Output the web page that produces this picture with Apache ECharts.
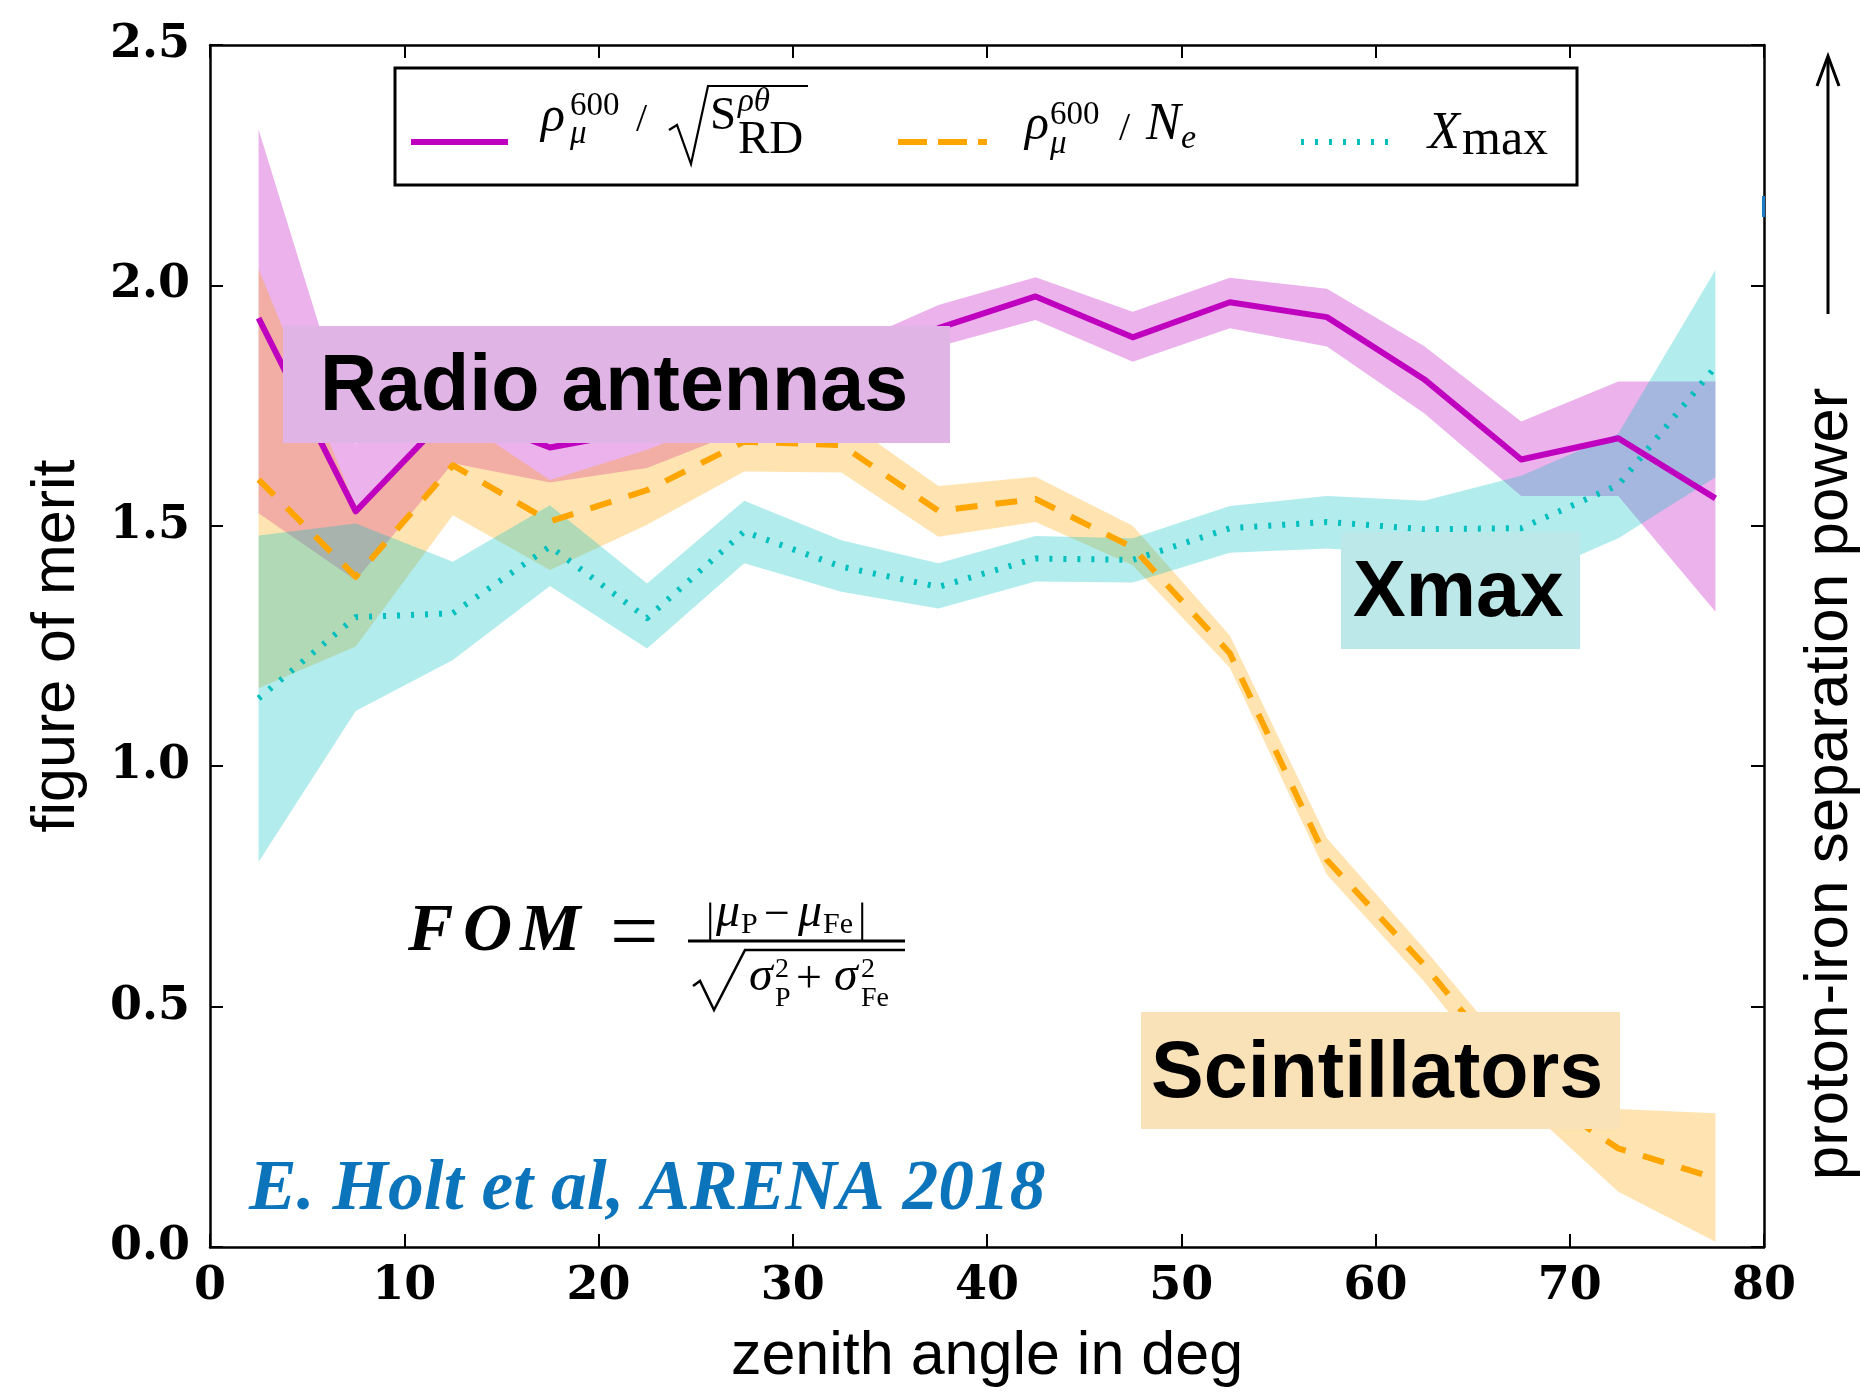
<!DOCTYPE html>
<html>
<head>
<meta charset="utf-8">
<script src="https://cdn.jsdelivr.net/npm/echarts/dist/echarts.min.js"></script>
<style>
  html, body { margin: 0; padding: 0; background: #fff; }
  #chart { width: 1860px; height: 1395px; }
</style>
</head>
<body>
<div id="chart"></div>
<script>
// Zenith-angle bin centres (deg)
const zenith = [2.5, 7.5, 12.5, 17.5, 22.5, 27.5, 32.5, 37.5, 42.5, 47.5, 52.5, 57.5, 62.5, 67.5, 72.5, 77.5];

// Radio antennas: rho_mu^600 / sqrt(S_RD)
const radioFom  = [1.932, 1.530, 1.740, 1.663, 1.700, 1.770, 1.820, 1.911, 1.977, 1.892, 1.965, 1.934, 1.805, 1.638, 1.682, 1.557];
const radioLow  = [1.526, 1.387, 1.630, 1.590, 1.620, 1.700, 1.770, 1.873, 1.928, 1.841, 1.911, 1.873, 1.734, 1.562, 1.562, 1.321];
const radioHigh = [2.324, 1.670, 1.850, 1.740, 1.780, 1.840, 1.870, 1.959, 2.017, 1.945, 2.016, 1.993, 1.874, 1.717, 1.800, 1.800];

// Scintillators: rho_mu^600 / N_e
const scintFom  = [1.596, 1.394, 1.626, 1.509, 1.574, 1.675, 1.668, 1.531, 1.556, 1.455, 1.235, 0.805, 0.587, 0.340, 0.205, 0.143];
const scintLow  = [1.162, 1.249, 1.522, 1.408, 1.502, 1.613, 1.611, 1.477, 1.508, 1.418, 1.205, 0.774, 0.552, 0.300, 0.115, 0.011];
const scintHigh = [2.034, 1.540, 1.730, 1.595, 1.658, 1.737, 1.725, 1.583, 1.602, 1.500, 1.272, 0.850, 0.621, 0.380, 0.287, 0.278];

// Xmax
const xmaxFom  = [1.141, 1.310, 1.318, 1.457, 1.308, 1.488, 1.415, 1.373, 1.432, 1.429, 1.495, 1.508, 1.493, 1.495, 1.585, 1.831];
const xmaxLow  = [0.801, 1.115, 1.221, 1.375, 1.245, 1.422, 1.363, 1.328, 1.384, 1.382, 1.444, 1.453, 1.440, 1.386, 1.474, 1.601];
const xmaxHigh = [1.480, 1.505, 1.425, 1.543, 1.380, 1.552, 1.470, 1.422, 1.479, 1.474, 1.541, 1.562, 1.552, 1.604, 1.692, 2.032];

// Axis ranges: [min, max, step]
const xRange = [0, 80, 10];
const yRange = [0, 2.5, 0.5];

const SERIF = '"Liberation Serif", "Times New Roman", serif';
const SANS = '"Liberation Sans", Arial, Helvetica, sans-serif';
const TICKFONT = '"DejaVu Serif", serif';

// text placed by its baseline
function tx(x, base, str, size, o) {
  o = o || {};
  return {
    type: 'text', z: 120, x: x, y: base - 0.34 * size,
    style: {
      text: str, fontSize: size, fontFamily: o.family || SERIF,
      fontStyle: o.italic ? 'italic' : 'normal', fontWeight: o.bold ? 'bold' : 'normal',
      fill: o.color || '#000', align: o.align || 'left', verticalAlign: 'middle'
    }
  };
}
function seg(points, width, color, dash) {
  return {
    type: 'polyline', z: 120, shape: { points: points },
    style: { stroke: color || '#000', lineWidth: width, fill: null, lineDash: dash || null, lineCap: 'butt', lineJoin: 'miter' }
  };
}
function box(x, y, w, h, fill, stroke) {
  return {
    type: 'rect', z: 110, shape: { x: x, y: y, width: w, height: h },
    style: { fill: fill, stroke: stroke || null, lineWidth: stroke ? 3 : 0 }
  };
}

function band(name, lo, hi, fill) {
  return {
    type: 'custom', name: name, silent: true, z: 1,
    data: zenith.map((x, i) => [x, lo[i], hi[i]]),
    encode: { x: 0, y: [1, 2] },
    renderItem: function (params, api) {
      if (params.dataIndex !== 0) return null;
      const pts = [];
      for (let i = 0; i < zenith.length; i++) pts.push(api.coord([zenith[i], hi[i]]));
      for (let i = zenith.length - 1; i >= 0; i--) pts.push(api.coord([zenith[i], lo[i]]));
      return { type: 'polygon', shape: { points: pts }, style: { fill: fill, stroke: null } };
    }
  };
}
function curve(name, vals, color, dash) {
  return {
    type: 'line', name: name, z: 5, symbol: 'none', silent: true,
    data: zenith.map((x, i) => [x, vals[i]]),
    lineStyle: { color: color, width: 6, type: dash || 'solid', cap: 'butt', join: 'round' }
  };
}

const MAG = '#bf00bf', ORG = '#ffa500', CYN = '#00bfbf';

const axisCommon = {
  axisLine: { show: true, onZero: false, lineStyle: { color: '#000', width: 2.5 } },
  axisTick: { show: true, inside: true, length: 13, lineStyle: { color: '#000', width: 2 } },
  splitLine: { show: false }
};

const graphics = [
  // legend frame and samples
  box(395, 68, 1182, 117, '#fff', '#000'),
  seg([[411, 142], [508, 142]], 6, MAG),
  seg([[898, 142], [987, 142]], 6, ORG, [29, 11]),
  seg([[1301, 142], [1390, 142]], 6, CYN, [3, 11]),
  // rho_mu^600 / sqrt(S_RD^{rho theta})
  tx(541, 135, 'ρ', 50, { italic: true }),
  tx(570, 118, '600', 33),
  tx(570, 146, 'μ', 33, { italic: true }),
  tx(636, 134, '/', 40),
  seg([[669, 130], [677, 125], [691, 164], [708, 86], [808, 86]], 2.2, '#000'),
  tx(710, 133, 'S', 47),
  tx(738, 114, 'ρθ', 33, { italic: true }),
  tx(738, 157, 'RD', 47),
  // rho_mu^600 / N_e
  tx(1025, 143, 'ρ', 50, { italic: true }),
  tx(1050, 127, '600', 33),
  tx(1050, 156, 'μ', 33, { italic: true }),
  tx(1119, 143, '/', 40),
  tx(1146, 143, 'N', 52, { italic: true }),
  tx(1181, 151, 'e', 34, { italic: true }),
  // X_max
  tx(1428, 152, 'X', 52, { italic: true }),
  tx(1462, 158, 'max', 50),

  // detector labels
  box(283, 326, 667, 117, '#e0b4e4'),
  tx(320, 415, 'Radio antennas', 79, { family: SANS, bold: true }),
  box(1341, 532, 239, 117, '#bde8ea'),
  tx(1353, 621, 'Xmax', 79, { family: SANS, bold: true }),
  box(1141, 1012, 479, 117, '#f9e2b8'),
  tx(1151, 1102, 'Scintillators', 79, { family: SANS, bold: true }),

  // FOM definition
  tx(408, 956, 'F', 68, { italic: true, bold: true }),
  tx(463, 956, 'O', 68, { italic: true, bold: true }),
  tx(520, 956, 'M', 68, { italic: true, bold: true }),
  tx(610, 967, '=', 86),
  tx(706, 935, '|', 42),
  tx(716, 930, 'μ', 48, { italic: true }),
  tx(741, 935, 'P', 30),
  tx(764, 932, '−', 46),
  tx(798, 930, 'μ', 48, { italic: true }),
  tx(823, 935, 'Fe', 30),
  tx(858, 935, '|', 42),
  seg([[688, 941], [905, 941]], 3, '#000'),
  seg([[693, 986], [700, 981], [714, 1010], [745, 950], [905, 950]], 2.5, '#000'),
  tx(749, 994, 'σ', 48, { italic: true }),
  tx(775, 979, '2', 28),
  tx(775, 1008, 'P', 28),
  tx(796, 996, '+', 46),
  tx(834, 994, 'σ', 48, { italic: true }),
  tx(861, 979, '2', 28),
  tx(861, 1008, 'Fe', 28),

  // citation
  tx(249, 1215, 'E. Holt et al, ARENA 2018', 71.5, { italic: true, bold: true, color: '#0b74bb' }),

  // axis titles
  tx(987, 1378, 'zenith angle in deg', 61, { family: SANS, align: 'center' }),
  {
    type: 'text', z: 120, x: 57, y: 646, rotation: Math.PI / 2,
    style: { text: 'figure of merit', fontSize: 61, fontFamily: SANS, fill: '#000', align: 'center', verticalAlign: 'middle' }
  },
  {
    type: 'text', z: 120, x: 1830, y: 784, rotation: Math.PI / 2,
    style: { text: 'proton-iron separation power', fontSize: 62, fontFamily: SANS, fill: '#000', align: 'center', verticalAlign: 'middle' }
  },
  // arrow pointing to better separation
  seg([[1828, 314], [1828, 58]], 3, '#000'),
  seg([[1817, 86], [1828, 56], [1839, 86]], 3, '#000'),
  // small blue mark on the right spine
  box(1762, 196, 3, 21, '#1b7bc4')
];

const chart = echarts.init(document.getElementById('chart'), null, { renderer: 'canvas' });
chart.setOption({
  animation: false,
  backgroundColor: '#fff',
  grid: { left: 210, top: 45, width: 1554, height: 1202, containLabel: false },
  xAxis: [
    Object.assign({
      type: 'value', min: xRange[0], max: xRange[1], interval: xRange[2], position: 'bottom',
      axisLabel: { show: true, margin: 17, color: '#000', fontFamily: TICKFONT, fontWeight: 'bold', fontSize: 46, showMinLabel: true, showMaxLabel: true }
    }, axisCommon),
    Object.assign({
      type: 'value', min: xRange[0], max: xRange[1], interval: xRange[2], position: 'top',
      axisLabel: { show: false }
    }, axisCommon)
  ],
  yAxis: [
    Object.assign({
      type: 'value', min: yRange[0], max: yRange[1], interval: yRange[2], position: 'left',
      axisLabel: { show: true, margin: 20, color: '#000', fontFamily: TICKFONT, fontWeight: 'bold', fontSize: 46,
        showMinLabel: true, showMaxLabel: true, formatter: v => v.toFixed(1) }
    }, axisCommon),
    Object.assign({
      type: 'value', min: yRange[0], max: yRange[1], interval: yRange[2], position: 'right',
      axisLabel: { show: false }
    }, axisCommon)
  ],
  series: [
    band('radio band', radioLow, radioHigh, 'rgba(191,0,191,0.3)'),
    band('scint band', scintLow, scintHigh, 'rgba(255,165,0,0.3)'),
    band('xmax band', xmaxLow, xmaxHigh, 'rgba(0,191,191,0.3)'),
    curve('radio', radioFom, MAG),
    curve('scint', scintFom, ORG, [22, 18]),
    curve('xmax', xmaxFom, CYN, [3, 11])
  ],
  graphic: { elements: graphics }
});
</script>
</body>
</html>
